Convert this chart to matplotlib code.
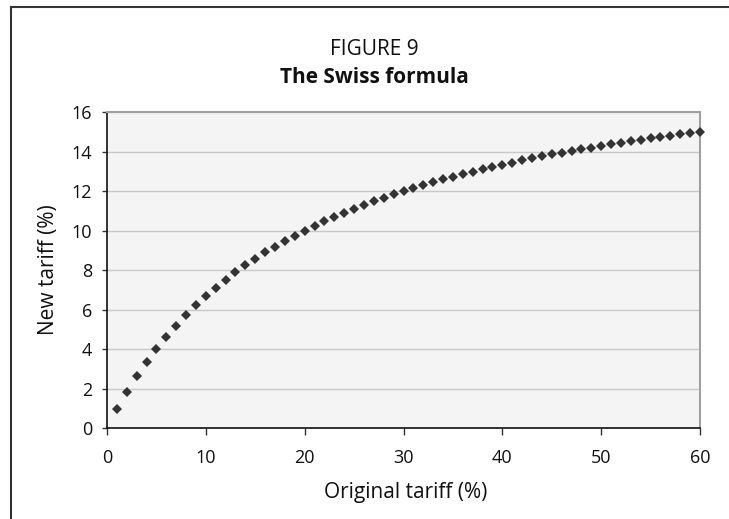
import matplotlib
matplotlib.use("Agg")
import matplotlib.pyplot as plt
from matplotlib.lines import Line2D

original_tariff = [1, 2, 3, 4, 5, 6, 7, 8, 9, 10,
                   11, 12, 13, 14, 15, 16, 17, 18, 19, 20,
                   21, 22, 23, 24, 25, 26, 27, 28, 29, 30,
                   31, 32, 33, 34, 35, 36, 37, 38, 39, 40,
                   41, 42, 43, 44, 45, 46, 47, 48, 49, 50,
                   51, 52, 53, 54, 55, 56, 57, 58, 59, 60]
new_tariff = [0.95, 1.82, 2.61, 3.33, 4.00, 4.62, 5.19, 5.71, 6.21, 6.67,
              7.10, 7.50, 7.88, 8.24, 8.57, 8.89, 9.19, 9.47, 9.74, 10.00,
              10.24, 10.48, 10.70, 10.91, 11.11, 11.30, 11.49, 11.67, 11.84, 12.00,
              12.16, 12.31, 12.45, 12.59, 12.73, 12.86, 12.98, 13.10, 13.22, 13.33,
              13.44, 13.55, 13.65, 13.75, 13.85, 13.94, 14.03, 14.12, 14.20, 14.29,
              14.37, 14.44, 14.52, 14.59, 14.67, 14.74, 14.81, 14.87, 14.94, 15.00]
x_ticks = [0, 10, 20, 30, 40, 50, 60]
y_ticks = [0, 2, 4, 6, 8, 10, 12, 14, 16]

plt.rcParams['font.family'] = ['Open Sans', 'DejaVu Sans']

fig = plt.figure(figsize=(7.29, 5.19), dpi=100)
ax = fig.add_axes([0.1468, 0.1753, 0.8134, 0.6089])
ax.set_facecolor('#f4f4f4')

ax.plot(original_tariff, new_tariff, linestyle='none', marker='D',
        markersize=5.2, markeredgewidth=0, color='#333333', clip_on=False, zorder=3)

ax.set_xlim(0, 60)
ax.set_ylim(0, 16)
ax.set_xticks(x_ticks)
ax.set_yticks(y_ticks)
ax.tick_params(axis='both', labelsize=13, width=1, color='#333333',
               direction='out', labelcolor='#111111')
ax.tick_params(axis='x', length=4.8, pad=10)
ax.tick_params(axis='y', length=3.6, pad=7)
ax.grid(axis='y', color='#c8c8c8', linewidth=1)
ax.set_axisbelow(True)
for s in ['left', 'bottom']:
    ax.spines[s].set_color('#111111')
    ax.spines[s].set_linewidth(1.2)
for s in ['top', 'right']:
    ax.spines[s].set_color('#a0a0a0')
    ax.spines[s].set_linewidth(1.5)

ax.set_xlabel('Original tariff (%)', fontsize=15, color='#111111')
ax.xaxis.label.set_va('baseline')
ax.xaxis.set_label_coords(0.504, -0.2215)
ax.set_ylabel('New tariff (%)', fontsize=15, color='#111111')
ax.yaxis.label.set_va('center')
ax.yaxis.set_label_coords(-0.098, 0.5)

fig.text(0.513, 0.894, 'FIGURE 9', ha='center', va='baseline', fontsize=15,
         color='#111111')
fig.text(0.513, 0.840, 'The Swiss formula', ha='center', va='baseline',
         fontsize=15, fontweight='bold', color='#111111')

fig.add_artist(Line2D([0.015, 0.015], [0.0, 0.987], transform=fig.transFigure,
                      color='#333333', linewidth=1.5))
fig.add_artist(Line2D([0.015, 1.0], [0.987, 0.987], transform=fig.transFigure,
                      color='#333333', linewidth=1.5))

fig.savefig('out.png', dpi=100)
